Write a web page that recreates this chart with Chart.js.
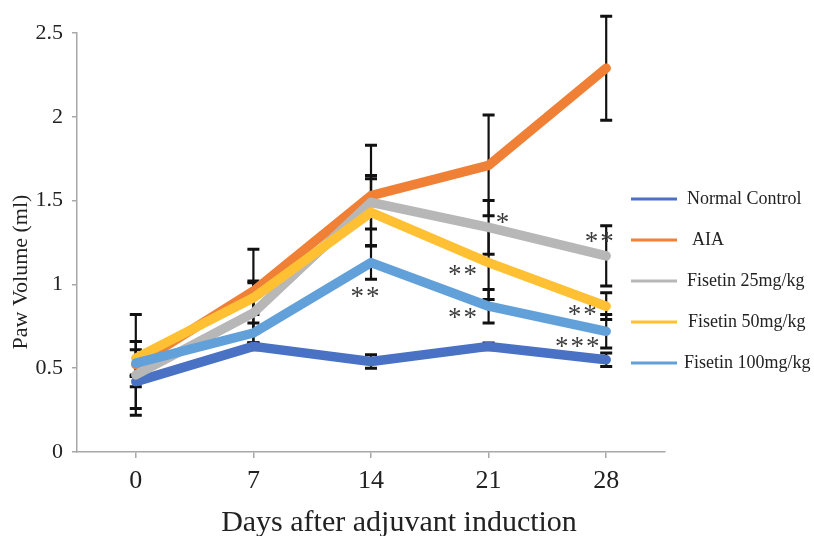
<!DOCTYPE html>
<html><head><meta charset="utf-8">
<script src="https://cdn.jsdelivr.net/npm/chart.js@4/dist/chart.umd.min.js"></script>
<style>html,body{margin:0;padding:0;background:#fff;}canvas{display:block;}</style>
</head><body>
<canvas id="c" width="814" height="536"></canvas>
<script>
// ---- data ----
const days = ['0', '7', '14', '21', '28'];
const seriesNames = ['Normal Control', 'AIA', 'Fisetin 25mg/kg', 'Fisetin 50mg/kg', 'Fisetin 100mg/kg'];
const normalControl = [0.42, 0.63, 0.54, 0.63, 0.55];
const aia           = [0.52, 0.96, 1.53, 1.71, 2.29];
const fisetin25     = [0.46, 0.83, 1.49, 1.34, 1.17];
const fisetin50     = [0.56, 0.92, 1.43, 1.13, 0.87];
const fisetin100    = [0.53, 0.71, 1.13, 0.87, 0.72];
const normalControlErr = [0.03, 0.02, 0.04, 0.02, 0.04];
const aiaErr           = [0.30, 0.25, 0.30, 0.30, 0.31];
const fisetin25Err     = [0.20, 0.18, 0.16, 0.16, 0.18];
const fisetin50Err     = [0.10, 0.10, 0.20, 0.22, 0.08];
const fisetin100Err    = [0.08, 0.06, 0.10, 0.10, 0.10];
const yTickValues = [0, 0.5, 1, 1.5, 2, 2.5];
const yTickLabels = ['0', '0.5', '1', '1.5', '2', '2.5'];
const sigDays   = ['14', '21', '21', '21', '28', '28', '28'];
const sigValues = [0.955, 1.396, 1.086, 0.829, 1.283, 0.847, 0.656];
const sigMarks  = ['**', '*', '**', '**', '**', '**', '***'];
const yTitle = 'Paw Volume (ml)';
const xTitle = 'Days after adjuvant induction';

// ---- styling / layout ----
const FONT = "'Liberation Serif', 'Times New Roman', serif";
const colors = ['#4A72C4', '#EF8036', '#B7B7B7', '#FFC133', '#62A0DA'];
const allValues = [normalControl, aia, fisetin25, fisetin50, fisetin100];
const allErr = [normalControlErr, aiaErr, fisetin25Err, fisetin50Err, fisetin100Err];
const sigOffsetX = [-6, 14, -26, -26, -7, -24, -29];
const legendTextX = [687, 692, 687, 688, 684];

const errorBars = {
  id: 'errorBars',
  beforeDatasetsDraw(chart) {
    const ctx = chart.ctx, xs = chart.scales.x, ys = chart.scales.y;
    ctx.save();
    ctx.strokeStyle = '#111';
    allValues.forEach((vals, i) => {
      vals.forEach((v, j) => {
        const e = allErr[i][j];
        const x = xs.getPixelForValue(j);
        const yt = ys.getPixelForValue(v + e), yb = ys.getPixelForValue(v - e);
        ctx.lineWidth = 2.2;
        ctx.beginPath(); ctx.moveTo(x, yt); ctx.lineTo(x, yb); ctx.stroke();
        ctx.lineWidth = 3;
        ctx.beginPath();
        ctx.moveTo(x - 6, yt); ctx.lineTo(x + 6, yt);
        ctx.moveTo(x - 6, yb); ctx.lineTo(x + 6, yb);
        ctx.stroke();
      });
    });
    ctx.restore();
  }
};

const extras = {
  id: 'extras',
  afterDraw(chart) {
    const ctx = chart.ctx, xs = chart.scales.x, ys = chart.scales.y;
    ctx.save();
    // significance marks
    ctx.fillStyle = '#3c3c3c';
    ctx.font = '27px ' + FONT;
    ctx.textAlign = 'center';
    ctx.textBaseline = 'alphabetic';
    try { ctx.letterSpacing = '2px'; } catch (e) {}
    sigMarks.forEach((m, k) => {
      const x = xs.getPixelForValue(days.indexOf(sigDays[k])) + sigOffsetX[k];
      const y = ys.getPixelForValue(sigValues[k]);
      ctx.fillText(m, x + 1, y + 13);
    });
    try { ctx.letterSpacing = '0px'; } catch (e) {}
    // legend
    ctx.font = '18px ' + FONT;
    ctx.textAlign = 'left';
    ctx.textBaseline = 'middle';
    seriesNames.forEach((name, i) => {
      const y = 199 + i * 41;
      ctx.strokeStyle = colors[i];
      ctx.lineWidth = 3;
      ctx.beginPath(); ctx.moveTo(631, y); ctx.lineTo(677, y); ctx.stroke();
      ctx.fillStyle = '#222';
      ctx.fillText(name, legendTextX[i], y);
    });
    // axis titles
    ctx.fillStyle = '#222';
    ctx.font = '22px ' + FONT;
    ctx.textAlign = 'center';
    ctx.translate(21, 272);
    ctx.rotate(-Math.PI / 2);
    ctx.fillText(yTitle, 0, 0);
    ctx.setTransform(1, 0, 0, 1, 0, 0);
    ctx.font = '30px ' + FONT;
    ctx.textBaseline = 'alphabetic';
    ctx.fillText(xTitle, 399, 531);
    ctx.restore();
  }
};

new Chart(document.getElementById('c'), {
  type: 'line',
  data: {
    labels: days,
    datasets: allValues.map((vals, i) => ({
      label: seriesNames[i],
      data: vals,
      borderColor: colors[i],
      backgroundColor: colors[i],
      borderWidth: 9.5,
      pointRadius: 0,
      tension: 0,
      borderJoinStyle: 'round',
      borderCapStyle: 'round',
      order: 5 - i,
      clip: false
    }))
  },
  options: {
    responsive: false,
    animation: false,
    devicePixelRatio: 1,
    layout: { padding: { top: 33, right: 149, left: 0, bottom: 0 } },
    plugins: { legend: { display: false }, tooltip: { enabled: false } },
    scales: {
      x: {
        type: 'category',
        offset: true,
        grid: { drawOnChartArea: false, drawTicks: true, tickLength: 6, color: '#a8a8a8', lineWidth: 1.5 },
        border: { color: '#a8a8a8', width: 1.5 },
        ticks: { font: { family: FONT, size: 26 }, color: '#222', padding: 8, maxRotation: 0 },
        afterFit(s) { s.height = 84; }
      },
      y: {
        min: 0, max: 2.5,
        afterBuildTicks(s) { s.ticks = yTickValues.map(v => ({ value: v })); },
        grid: { drawOnChartArea: false, drawTicks: true, tickLength: 5, color: '#a8a8a8', lineWidth: 1.5 },
        border: { color: '#a8a8a8', width: 1.5 },
        ticks: {
          font: { family: FONT, size: 22 }, color: '#222', padding: 9,
          callback: (v, idx) => yTickLabels[idx]
        },
        afterFit(s) { s.width = 77; }
      }
    }
  },
  plugins: [errorBars, extras]
});
</script>
</body></html>
